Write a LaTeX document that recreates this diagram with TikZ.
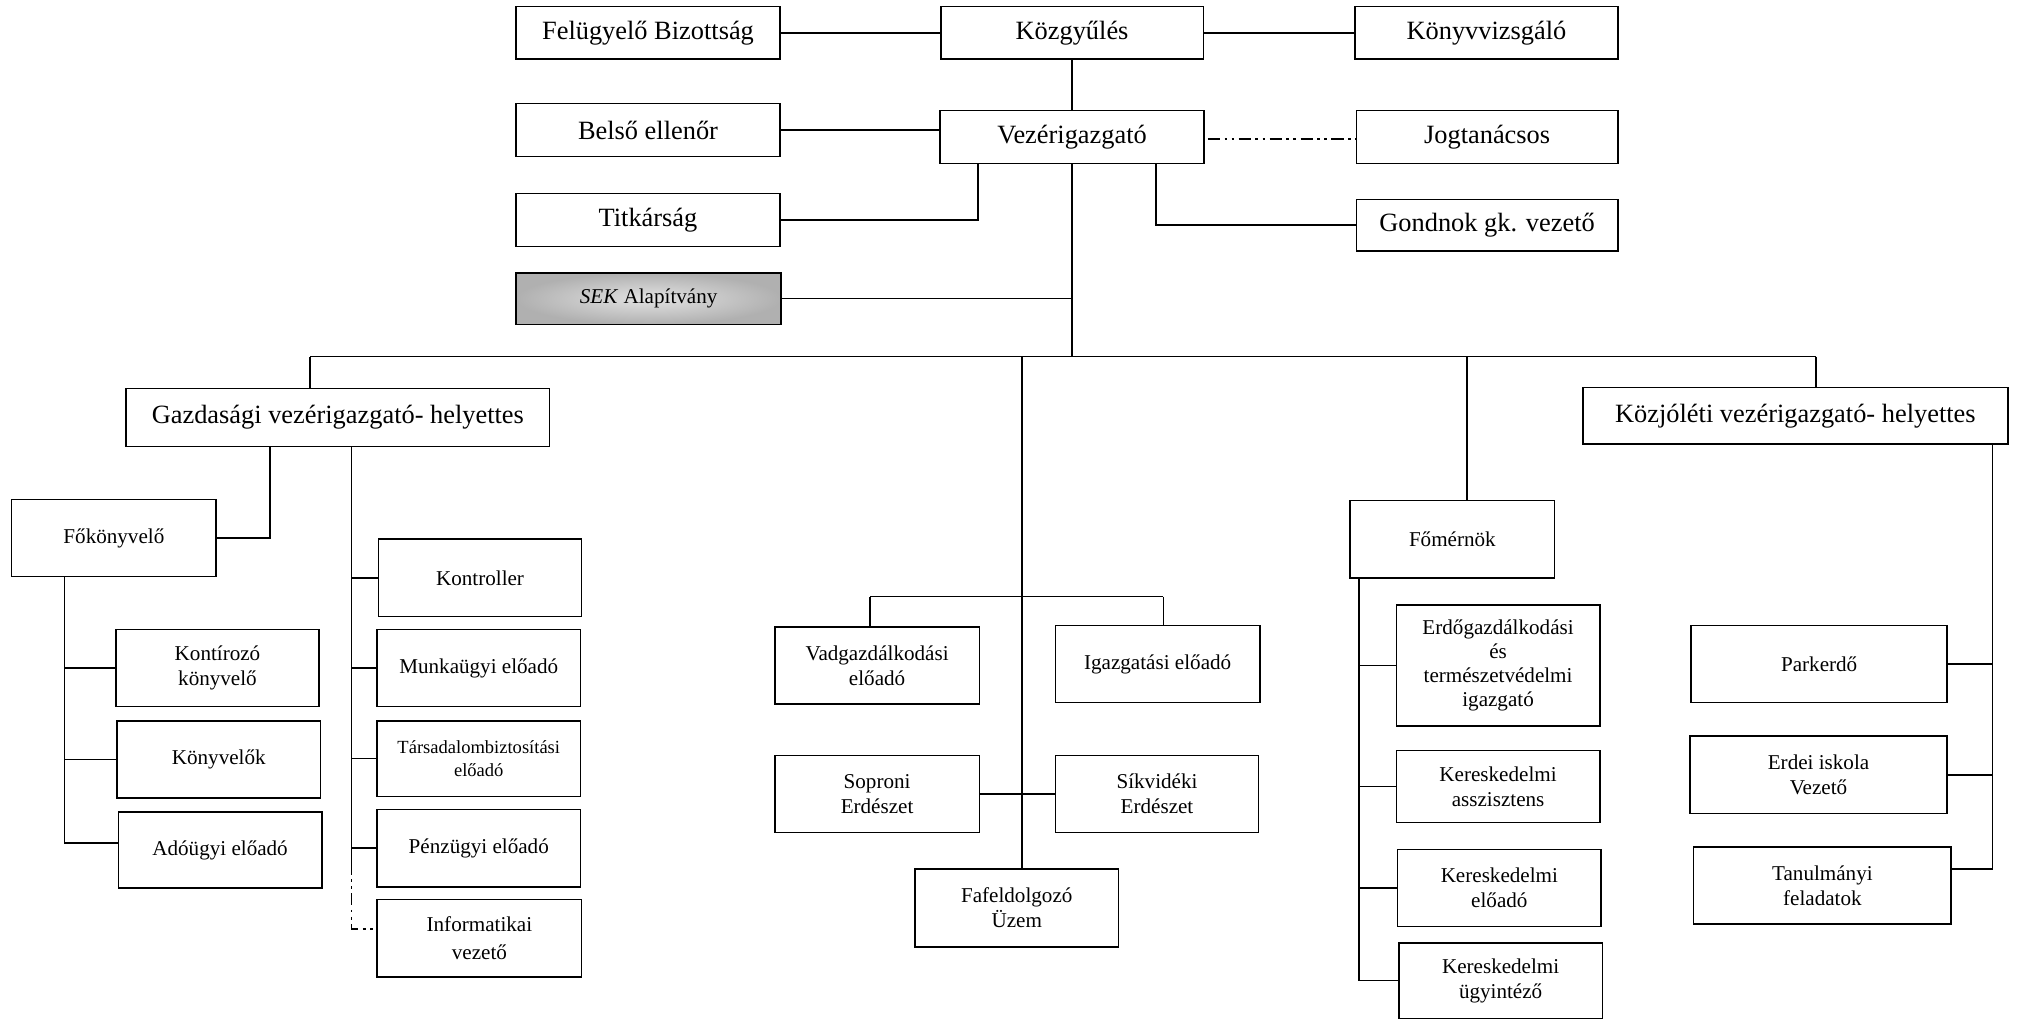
\documentclass[tikz,border=0pt]{standalone}
\usepackage{fontspec}
\setmainfont{Liberation Serif}
\begin{document}
\begin{tikzpicture}[x=1pt,y=-1pt,
  box/.style={draw, line width=1.2pt, inner sep=1pt, outer sep=0pt, align=center, fill=white},
  big/.style={font=\fontsize{20.5}{24}\selectfont},
  small/.style={font=\fontsize{16.4}{19.5}\selectfont},
  tiny/.style={font=\fontsize{14.4}{18}\selectfont},
  conn/.style={line width=1.2pt},
  ddot/.style={line width=1.2pt, dash pattern=on 9.5pt off 3.5pt on 2pt off 3.5pt on 2pt off 3.5pt},
  sekfill/.style={inner color=gray!22, outer color=gray!62}
]
\useasboundingbox (0,0) rectangle (1568,793);
\fill[white] (0,0) rectangle (1568,793);

% macro-free placement: node at centre with explicit size
% top part
\node[box,big,minimum width=205pt,minimum height=41pt] (fb) at (503.5,25.5) {Felügyelő Bizottság};
\node[box,big,minimum width=204pt,minimum height=41pt] (kgy) at (833,25.5) {Közgyűlés};
\node[box,big,minimum width=204pt,minimum height=41pt] (kv) at (1155,25.5) {Könyvvizsgáló};
\node[box,big,minimum width=205pt,minimum height=41pt] (be) at (503.5,101) {Belső ellenőr};
\node[box,big,minimum width=205pt,minimum height=41pt] (vig) at (833,106.5) {Vezérigazgató};
\node[box,big,minimum width=203pt,minimum height=41pt] (jt) at (1155.5,106.5) {Jogtanácsos};
\node[box,big,minimum width=205pt,minimum height=41pt] (tit) at (503.5,171) {Titkárság};
\node[box,big,minimum width=203pt,minimum height=40pt] (gond) at (1155.5,175) {Gondnok gk. vezető};
\node[box,small,minimum width=206pt,minimum height=40pt,sekfill] (sek) at (504,232) {\textit{SEK} Alapítvány};

% deputies
\node[box,big,minimum width=329pt,minimum height=45pt] (gvh) at (262.5,324.5) {Gazdasági vezérigazgató- helyettes};
\node[box,big,minimum width=330pt,minimum height=44pt] (kvh) at (1395,323) {Közjóléti vezérigazgató- helyettes};

% left group
\node[box,small,minimum width=159pt,minimum height=60pt] (fk) at (88.5,418) {Főkönyvelő};
\node[box,small,minimum width=158pt,minimum height=60pt] (kont) at (169,519) {Kontírozó\\könyvelő};
\node[box,small,minimum width=158pt,minimum height=60pt] (konyv) at (170,590) {Könyvelők};
\node[box,small,minimum width=158pt,minimum height=59pt] (ado) at (171,660.5) {Adóügyi előadó};
\node[box,small,minimum width=158pt,minimum height=60pt] (ktr) at (373,449) {Kontroller};
\node[box,small,minimum width=158pt,minimum height=60pt] (munka) at (372,519) {Munkaügyi előadó};
\node[box,tiny,minimum width=158pt,minimum height=59pt] (tb) at (372,589.5) {Társadalombiztosítási\\előadó};
\node[box,small,minimum width=158pt,minimum height=60pt] (penz) at (372,659) {Pénzügyi előadó};
\node[box,small,minimum width=159pt,minimum height=60pt,font=\fontsize{16.4}{22}\selectfont] (info) at (372.5,729) {Informatikai\\vezető};

% centre group
\node[box,small,minimum width=159pt,minimum height=60pt] (vad) at (681.5,517) {Vadgazdálkodási\\előadó};
\node[box,small,minimum width=159pt,minimum height=60pt] (igaz) at (899.5,516) {Igazgatási előadó};
\node[box,small,minimum width=159pt,minimum height=60pt] (sop) at (681.5,617) {Soproni\\Erdészet};
\node[box,small,minimum width=158pt,minimum height=60pt] (sik) at (899,617) {Síkvidéki\\Erdészet};
\node[box,small,minimum width=158pt,minimum height=61pt] (fa) at (790,705.5) {Fafeldolgozó\\Üzem};

% engineer group
\node[box,small,minimum width=159pt,minimum height=60pt] (fm) at (1128.5,419) {Főmérnök};
\node[box,small,minimum width=158pt,minimum height=94pt,font=\fontsize{16.4}{18.5}\selectfont] (erdo) at (1164,517) {Erdőgazdálkodási\\és\\természetvédelmi\\igazgató};
\node[box,small,minimum width=158pt,minimum height=56pt] (ka) at (1164,611) {Kereskedelmi\\asszisztens};
\node[box,small,minimum width=158pt,minimum height=60pt] (ke) at (1165,690) {Kereskedelmi\\előadó};
\node[box,small,minimum width=158pt,minimum height=59pt] (ku) at (1166,762) {Kereskedelmi\\ügyintéző};

% public welfare group
\node[box,small,minimum width=199pt,minimum height=60pt] (park) at (1413.5,516) {Parkerdő};
\node[box,small,minimum width=200pt,minimum height=60pt] (ei) at (1413,602) {Erdei iskola\\Vezető};
\node[box,small,minimum width=200pt,minimum height=60pt] (tan) at (1416,688) {Tanulmányi\\feladatok};

% coordinates
\coordinate (tj) at (760,171);
\coordinate (gj) at (898,175);
\coordinate (bus) at (834,277);
\coordinate (busL) at (241,277);
\coordinate (busC) at (794,277);
\coordinate (busF) at (1140,277);
\coordinate (busR) at (1411,277);
\coordinate (fkj) at (210,418);
\coordinate (lsp) at (50,0);
\coordinate (rsp) at (273,0);
\coordinate (rdash) at (273,670);
\coordinate (infoj) at (273,722);
\coordinate (adoj) at (50,655);
\coordinate (subL) at (676,463.6);
\coordinate (subR) at (904,463.6);
\coordinate (fsp) at (1056,0);
\coordinate (ksp) at (1548,0);
\coordinate (tanj) at (1548,675);

% connectors top
\draw[conn] (fb.east) -- (kgy.west);
\draw[conn] (kgy.east) -- (kv.west);
\draw[conn] (kgy.south) -- (vig.north);
\draw[conn] (be.east) -- (be.east -| vig.west);
\draw[ddot] ([xshift=3pt,yshift=-1.5pt]vig.east) -- ([yshift=-1.5pt]jt.west);
\draw[conn] (tit.east) -- (tj) -- (tj |- vig.south);
\draw[conn] (gj |- vig.south) -- (gj) -- (gond.west);
\draw[conn] (vig.south) -- (vig.south |- bus);
\draw[conn] (sek.east) -- (sek.east -| vig.south);

% bus and drops
\draw[conn] (busL) -- (busR);
\draw[conn] (busL) -- (busL |- gvh.north);
\draw[conn] (busC) -- (busC |- fa.north);
\draw[conn] (busF) -- (busF |- fm.north);
\draw[conn] (busR) -- (busR |- kvh.north);

% left group connectors
\draw[conn] (fkj |- gvh.south) -- (fkj) -- (fk.east);
\draw[conn] (lsp |- fk.south) -- (adoj) -- (adoj -| ado.west);
\draw[conn] (lsp |- kont.west) -- (kont.west);
\draw[conn] (lsp |- konyv.west) -- (konyv.west);
\draw[conn] (rsp |- gvh.south) -- (rdash);
\draw[conn] (rsp |- ktr.west) -- (ktr.west);
\draw[conn] (rsp |- munka.west) -- (munka.west);
\draw[conn] (rsp |- tb.west) -- (tb.west);
\draw[conn] (rsp |- penz.west) -- (penz.west);
\draw[ddot] (rdash) -- (infoj) -- (infoj -| info.west);

% centre connectors
\draw[conn] (subL) -- (subR);
\draw[conn] (subL) -- (subL |- vad.north);
\draw[conn] (subR) -- (subR |- igaz.north);
\draw[conn] (sop.east) -- (sik.west);

% engineer connectors
\draw[conn] (fsp |- fm.south) -- (fsp |- ku.west) -- (ku.west);
\draw[conn] (fsp |- erdo.west) -- (erdo.west);
\draw[conn] (fsp |- ka.west) -- (ka.west);
\draw[conn] (fsp |- ke.west) -- (ke.west);

% public welfare connectors
\draw[conn] (ksp |- kvh.south) -- (tanj) -- (tanj -| tan.east);
\draw[conn] (park.east) -- (park.east -| ksp);
\draw[conn] (ei.east) -- (ei.east -| ksp);
\end{tikzpicture}
\end{document}
